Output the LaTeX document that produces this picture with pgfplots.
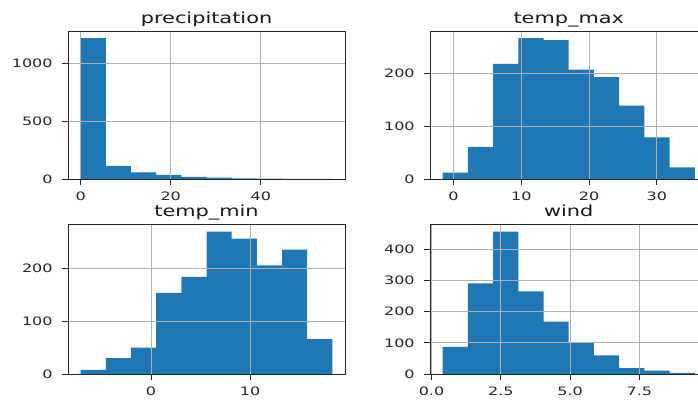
\documentclass[border=0pt]{standalone}
\usepackage{fontspec}
\setmainfont{DejaVu Sans}
\usepackage{pgfplots}
\pgfplotsset{compat=1.18}
\definecolor{mplblue}{HTML}{1F77B4}
\definecolor{gridgray}{HTML}{B0B0B0}
\newcommand\hs[1]{\scalebox{1.38}[1]{#1}}
\newcommand\htitle[1]{\scalebox{1.36}[1]{#1}}
\pgfplotsset{
 hist/.style={
  scale only axis,
  axis on top,
  grid=major,
  major grid style={color=gridgray, line width=0.6pt},
  axis line style={color=black!85, line width=0.65pt},
  tick align=outside,
  tick pos=left,
  major tick length=4.5pt,
  tick style={color=black!85, line width=0.65pt},
  ymin=0,
  /pgf/number format/assume math mode=true,
  /pgf/number format/1000 sep={},
  tick label style={font=\fontsize{8.7}{10}\selectfont, color=black!85},
  yticklabel shift=3.5pt,
  xticklabel shift=1.4pt,
  xticklabel={\hs{\pgfmathprintnumber{\tick}}},
  yticklabel={\hs{\pgfmathprintnumber{\tick}}},
  every axis title shift=0pt,
  title style={at={(0.5,1)}, anchor=base, yshift=5.7pt, inner sep=0pt, font=\fontsize{11.5}{13}\selectfont, color=black!90},
  scaled ticks=false,
 },
 bars/.style={ybar interval, fill=mplblue, draw=none},
}
\begin{document}
\begin{tikzpicture}
% precipitation
\begin{axis}[hist, at={(51pt,165pt)}, anchor=south west, width=207.75pt, height=111pt,
  xmin=-2.795, xmax=58.695, ymax=1275.75, xtick={0,20,40}, ytick={0,500,1000},
  title={\htitle{precipitation}}]
\addplot[bars] coordinates {(0,1215) (5.59,113) (11.18,57) (16.77,35) (22.36,18) (27.95,11) (33.54,5) (39.13,3) (44.72,2) (50.31,2) (55.9,0)};
\end{axis}
% temp_max
\begin{axis}[hist, at={(322.5pt,165pt)}, anchor=south west, width=208.1pt, height=111pt,
  xmin=-3.46, xmax=37.46, ymax=280.35, xtick={0,10,20,30}, ytick={0,100,200},
  title={\htitle{temp\_max}}]
\addplot[bars] coordinates {(-1.6,12) (2.12,61) (5.84,218) (9.56,267) (13.28,263) (17.0,207) (20.72,193) (24.44,139) (28.16,79) (31.88,22) (35.6,0)};
\end{axis}
% temp_min
\begin{axis}[hist, at={(51pt,18.75pt)}, anchor=south west, width=207.75pt, height=112.1pt,
  xmin=-8.37, xmax=19.57, ymax=283.5, xtick={0,10}, ytick={0,100,200},
  title={\htitle{temp\_min}}]
\addplot[bars] coordinates {(-7.1,8) (-4.56,30) (-2.02,50) (0.52,154) (3.06,184) (5.6,270) (8.14,257) (10.68,206) (13.22,236) (15.76,66) (18.3,0)};
\end{axis}
% wind
\begin{axis}[hist, at={(322.5pt,18.75pt)}, anchor=south west, width=208.1pt, height=112.1pt,
  xmin=-0.055, xmax=9.955, ymax=478.8, xtick={0,2.5,5,7.5}, ytick={0,100,200,300,400},
  xticklabel style={/pgf/number format/.cd, fixed, fixed zerofill, precision=1},
  title={\htitle{wind}}]
\addplot[bars] coordinates {(0.4,87) (1.31,290) (2.22,456) (3.13,265) (4.04,168) (4.95,101) (5.86,60) (6.77,19) (7.68,11) (8.59,4) (9.5,0)};
\end{axis}
\pgfresetboundingbox
\useasboundingbox (0,0) rectangle (523.5pt,299.25pt);
\end{tikzpicture}
\end{document}
